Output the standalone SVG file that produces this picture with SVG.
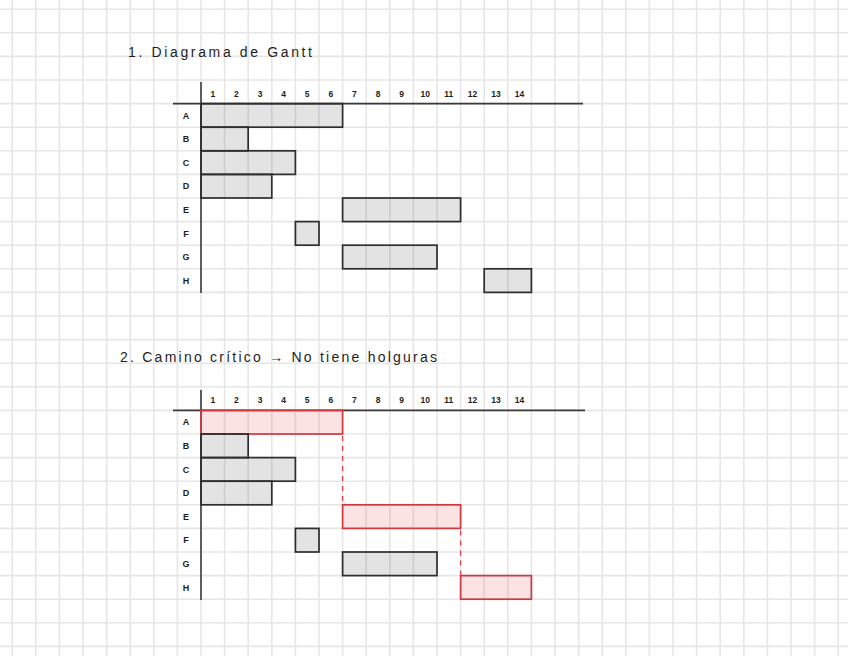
<svg xmlns="http://www.w3.org/2000/svg" width="848" height="656" viewBox="0 0 848 656">
<style>
.grid{stroke:#e6e6e6;stroke-width:1.6;fill:none}
.axis{stroke:#3a3a3a;stroke-width:1.6;fill:none}
.bar{fill:rgba(0,0,0,0.11);stroke:#2e2e2e;stroke-width:1.7}
.crit{fill:rgba(225,40,50,0.13);stroke:#cf3a40;stroke-width:1.7}
.dash{stroke:#d9484e;stroke-width:1.4;stroke-dasharray:5 5;fill:none}
.title{font-family:"Liberation Sans",Arial,sans-serif;font-size:14px;fill:#1e1e1e}
.num{font-family:"Liberation Sans",Arial,sans-serif;font-size:8.5px;font-weight:bold;fill:#1e1e1e;text-anchor:middle}
.lab{font-family:"Liberation Sans",Arial,sans-serif;font-size:9px;font-weight:bold;fill:#1e1e1e;text-anchor:middle}
</style>
<rect width="848" height="656" fill="#ffffff"/>
<path class="grid" d="M12.2 0V656M35.8 0V656M59.4 0V656M83 0V656M106.6 0V656M130.2 0V656M153.8 0V656M177.4 0V656M201 0V656M224.6 0V656M248.2 0V656M271.8 0V656M295.4 0V656M319 0V656M342.6 0V656M366.2 0V656M389.8 0V656M413.4 0V656M437 0V656M460.6 0V656M484.2 0V656M507.8 0V656M531.4 0V656M555 0V656M578.6 0V656M602.2 0V656M625.8 0V656M649.4 0V656M673 0V656M696.6 0V656M720.2 0V656M743.8 0V656M767.4 0V656M791 0V656M814.6 0V656M838.2 0V656
M0 9.2H848M0 32.8H848M0 56.4H848M0 80H848M0 103.6H848M0 127.2H848M0 150.8H848M0 174.4H848M0 198H848M0 221.6H848M0 245.2H848M0 268.8H848M0 292.4H848M0 316H848M0 339.6H848M0 363.2H848M0 386.8H848M0 410.4H848M0 434H848M0 457.6H848M0 481.2H848M0 504.8H848M0 528.4H848M0 552H848M0 575.6H848M0 599.2H848M0 622.8H848M0 646.4H848"/>

<text class="title" x="128" y="57" textLength="184" lengthAdjust="spacing">1. Diagrama de Gantt</text>

<g id="chart1">
  <g id="c1-axes">
    <path class="axis" d="M173 103.6H583M201 82V293"/>
    <g class="num">
      <text x="212.8" y="97">1</text><text x="236.4" y="97">2</text><text x="260" y="97">3</text><text x="283.6" y="97">4</text><text x="307.2" y="97">5</text><text x="330.8" y="97">6</text><text x="354.4" y="97">7</text><text x="378" y="97">8</text><text x="401.6" y="97">9</text><text x="425.2" y="97">10</text><text x="448.8" y="97">11</text><text x="472.4" y="97">12</text><text x="496" y="97">13</text><text x="519.6" y="97">14</text>
    </g>
    <g class="lab">
      <text x="186" y="118.6">A</text><text x="186" y="142.2">B</text><text x="186" y="165.8">C</text><text x="186" y="189.4">D</text><text x="186" y="213">E</text><text x="186" y="236.6">F</text><text x="186" y="260.2">G</text><text x="186" y="283.8">H</text>
    </g>
  </g>
  <g id="c1-A"><rect class="bar" x="201" y="103.6" width="141.6" height="23.6"/></g>
  <g id="c1-B"><rect class="bar" x="201" y="127.2" width="47.2" height="23.6"/></g>
  <g id="c1-C"><rect class="bar" x="201" y="150.8" width="94.4" height="23.6"/></g>
  <g id="c1-D"><rect class="bar" x="201" y="174.4" width="70.8" height="23.6"/></g>
  <g id="c1-E"><rect class="bar" x="342.6" y="198" width="118" height="23.6"/></g>
  <g id="c1-F"><rect class="bar" x="295.4" y="221.6" width="23.6" height="23.6"/></g>
  <g id="c1-G"><rect class="bar" x="342.6" y="245.2" width="94.4" height="23.6"/></g>
  <g id="c1-H"><rect class="bar" x="484.2" y="268.8" width="47.2" height="23.6"/></g>
</g>

<text class="title" x="120" y="362" textLength="317" lengthAdjust="spacing">2. Camino crítico → No tiene holguras</text>

<g id="chart2">
  <g id="c2-axes">
    <path class="axis" d="M173 410.4H585M201 390V600"/>
    <g class="num">
      <text x="212.8" y="403">1</text><text x="236.4" y="403">2</text><text x="260" y="403">3</text><text x="283.6" y="403">4</text><text x="307.2" y="403">5</text><text x="330.8" y="403">6</text><text x="354.4" y="403">7</text><text x="378" y="403">8</text><text x="401.6" y="403">9</text><text x="425.2" y="403">10</text><text x="448.8" y="403">11</text><text x="472.4" y="403">12</text><text x="496" y="403">13</text><text x="519.6" y="403">14</text>
    </g>
    <g class="lab">
      <text x="186" y="425.4">A</text><text x="186" y="449">B</text><text x="186" y="472.6">C</text><text x="186" y="496.2">D</text><text x="186" y="519.8">E</text><text x="186" y="543.4">F</text><text x="186" y="567">G</text><text x="186" y="590.6">H</text>
    </g>
  </g>
  <g id="c2-A"><rect class="crit" x="201" y="410.4" width="141.6" height="23.6"/></g>
  <g id="c2-B"><rect class="bar" x="201" y="434" width="47.2" height="23.6"/></g>
  <g id="c2-C"><rect class="bar" x="201" y="457.6" width="94.4" height="23.6"/></g>
  <g id="c2-D"><rect class="bar" x="201" y="481.2" width="70.8" height="23.6"/></g>
  <g id="c2-E"><rect class="crit" x="342.6" y="504.8" width="118" height="23.6"/></g>
  <g id="c2-F"><rect class="bar" x="295.4" y="528.4" width="23.6" height="23.6"/></g>
  <g id="c2-G"><rect class="bar" x="342.6" y="552" width="94.4" height="23.6"/></g>
  <g id="c2-H"><rect class="crit" x="460.6" y="575.6" width="70.8" height="23.6"/></g>
</g>

<g id="connectors">
  <path class="dash" d="M342.6 436V504.8"/>
  <path class="dash" d="M460.6 530.4V575.6"/>
</g>
</svg>
